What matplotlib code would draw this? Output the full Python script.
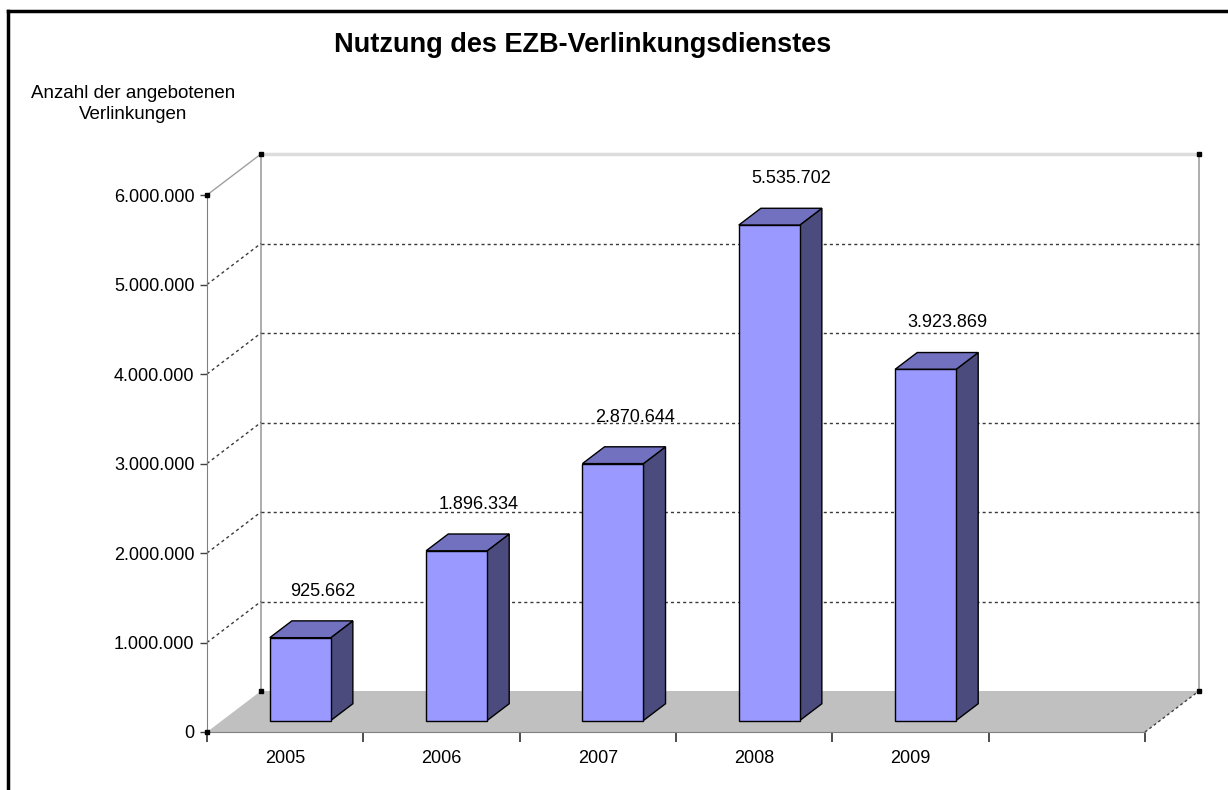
import matplotlib
matplotlib.use("Agg")
import matplotlib.pyplot as plt
from matplotlib.patches import Polygon
from matplotlib.lines import Line2D
from matplotlib.ticker import FuncFormatter

years = ["2005", "2006", "2007", "2008", "2009"]
values = [925662, 1896334, 2870644, 5535702, 3923869]
value_labels = ["925.662", "1.896.334", "2.870.644", "5.535.702", "3.923.869"]
y_ticks = [0, 1000000, 2000000, 3000000, 4000000, 5000000, 6000000]

plt.rcParams['font.family'] = ['Liberation Sans', 'DejaVu Sans']

fig = plt.figure(figsize=(12.28, 7.90), dpi=100)
ax = fig.add_axes([207 / 1228, 1 - 732 / 790, 938 / 1228, 537 / 790])

n_slots = 6
y_max = 6000000
dx = 0.345          # depth offset in category units
dy = 0.458e6        # depth offset in value units
bar_w = 0.39
f0 = 0.28           # front of bar, as fraction of depth
fd = 0.41           # bar depth, as fraction of depth

ax.set_xlim(0, n_slots)
ax.set_ylim(0, y_max)

# floor
ax.add_patch(Polygon([(0, 0), (dx, dy), (n_slots + dx, dy), (n_slots, 0)],
                     closed=True, facecolor='#c0c0c0', edgecolor='none',
                     clip_on=False, zorder=1))
ax.add_line(Line2D([n_slots, n_slots + dx], [0, dy], color='#404040',
                   lw=1, ls=(0, (2, 2)), clip_on=False, zorder=2))

# back wall and left wall
wall = '#a0a0a0'
ax.add_line(Line2D([dx, dx], [dy, y_max + dy], color=wall, lw=1.2, clip_on=False, zorder=1))
ax.add_line(Line2D([n_slots + dx, n_slots + dx], [dy, y_max + dy], color=wall, lw=1.2,
                   clip_on=False, zorder=1))
ax.add_line(Line2D([dx, n_slots + dx], [y_max + dy, y_max + dy], color='#dcdcdc', lw=2.5,
                   clip_on=False, zorder=1))
ax.add_line(Line2D([0, dx], [y_max, y_max + dy], color=wall, lw=1, clip_on=False, zorder=1))

# gridlines
for v in y_ticks[1:-1]:
    ax.add_line(Line2D([dx, n_slots + dx], [v + dy, v + dy], color='#3a3a3a', lw=1,
                       ls=(0, (2.2, 2.2)), clip_on=False, zorder=1))
    ax.add_line(Line2D([0, dx], [v, v + dy], color='#3a3a3a', lw=1,
                       ls=(0, (2.2, 2.2)), clip_on=False, zorder=1))

# corner markers
cx = [0, dx, n_slots + dx, dx, n_slots + dx, 0]
cy = [y_max, y_max + dy, y_max + dy, dy, dy, 0]
ax.plot(cx, cy, ls='none', marker='s', ms=3.5, color='black', clip_on=False, zorder=6)

# bars
ddx = fd * dx
ddy = fd * dy
for i, (v, lab) in enumerate(zip(values, value_labels)):
    x0 = i + 0.5 - bar_w / 2 + f0 * dx
    y0 = f0 * dy
    front = [(x0, y0), (x0 + bar_w, y0), (x0 + bar_w, y0 + v), (x0, y0 + v)]
    top = [(x0, y0 + v), (x0 + bar_w, y0 + v), (x0 + bar_w + ddx, y0 + v + ddy),
           (x0 + ddx, y0 + v + ddy)]
    side = [(x0 + bar_w, y0), (x0 + bar_w + ddx, y0 + ddy),
            (x0 + bar_w + ddx, y0 + v + ddy), (x0 + bar_w, y0 + v)]
    for pts, col in [(side, '#4b4b7e'), (top, '#7171c0'), (front, '#9999ff')]:
        ax.add_patch(Polygon(pts, closed=True, facecolor=col, edgecolor='black',
                             lw=1, clip_on=False, zorder=4))
    ax.text(x0 + bar_w / 2 + ddx, y0 + v + ddy + 0.33e6, lab, ha='center', va='center',
            fontsize=13, color='black', zorder=5)

# axes
for s in ['top', 'right']:
    ax.spines[s].set_visible(False)
ax.spines['left'].set_color('#808080')
ax.spines['bottom'].set_color('#808080')
ax.set_facecolor('none')
ax.set_yticks(y_ticks)
ax.yaxis.set_major_formatter(FuncFormatter(lambda v, p: f"{int(v):,}".replace(",", ".")))
ax.tick_params(axis='y', direction='out', length=5, width=1, color='#404040',
               labelsize=13, pad=4)
ax.set_xticks(range(n_slots + 1))
ax.set_xticklabels([])
ax.set_xticks([i + 0.5 for i in range(len(years))], minor=True)
ax.set_xticklabels(years, minor=True)
ax.tick_params(axis='x', which='major', direction='out', length=7.5, width=1.2, color='#303030')
ax.tick_params(axis='x', which='minor', length=0, labelsize=13, pad=13)

# text
fig.text(583 / 1228, 1 - 45 / 790, "Nutzung des EZB-Verlinkungsdienstes", ha='center',
         va='center', fontsize=19.5, fontweight='bold')
fig.text(133 / 1228, 1 - 104 / 790, "Anzahl der angebotenen\nVerlinkungen", ha='center',
         va='center', fontsize=13.5, linespacing=1.3)

# border
fig.add_artist(Line2D([8 / 1228, 1], [1 - 11 / 790, 1 - 11 / 790], transform=fig.transFigure,
                      color='black', lw=2.5))
fig.add_artist(Line2D([8 / 1228, 8 / 1228], [0, 1 - 11 / 790], transform=fig.transFigure,
                      color='black', lw=2.5))

fig.savefig("out.png", dpi=100)
